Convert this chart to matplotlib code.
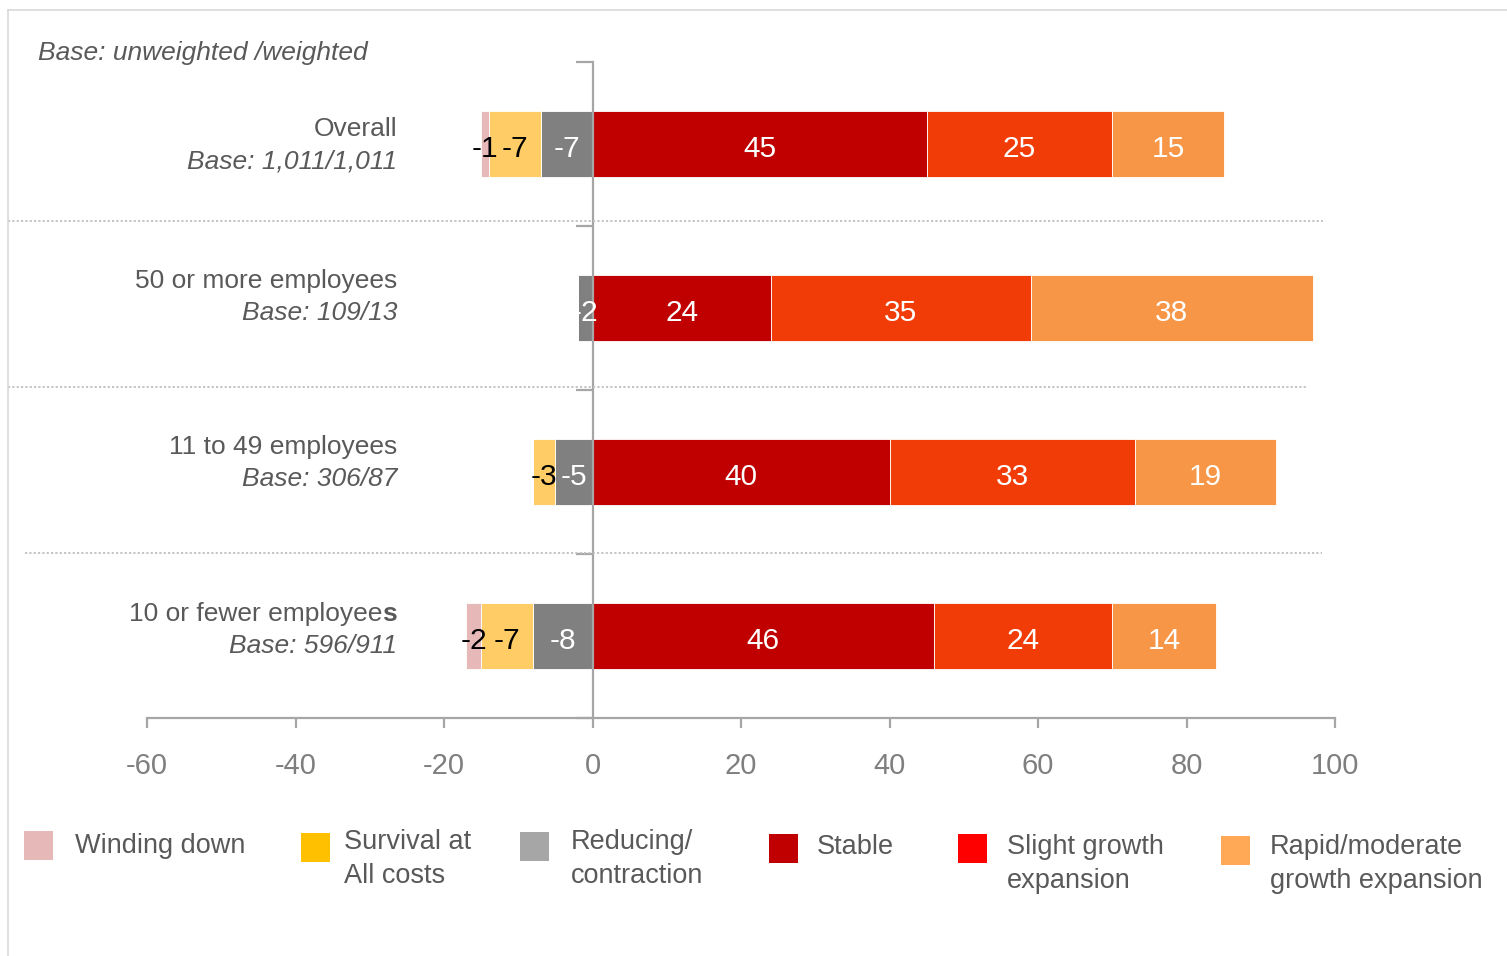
import matplotlib
matplotlib.use("Agg")
import matplotlib.pyplot as plt
from matplotlib.patches import Rectangle
from matplotlib.lines import Line2D
from matplotlib.transforms import offset_copy

plt.rcParams['font.family'] = ['Liberation Sans', 'DejaVu Sans']

# ---- data -------------------------------------------------------------
categories = ["Overall", "50 or more employees", "11 to 49 employees",
              "10 or fewer employees"]
bases = ["Base: 1,011/1,011", "Base: 109/13", "Base: 306/87", "Base: 596/911"]

# negative side (drawn outward from zero)
winding_down = [-1, 0, 0, -2]
survival = [-7, 0, -3, -7]
reducing = [-7, -2, -5, -8]
# positive side
stable = [45, 24, 40, 46]
slight_growth = [25, 35, 33, 24]
rapid_growth = [15, 38, 19, 14]

series_names = ["Winding down", "Survival at\nAll costs", "Reducing/\ncontraction",
                "Stable", "Slight growth\nexpansion", "Rapid/moderate\ngrowth expansion"]
bar_colors = ["#E6B9B8", "#FFCC66", "#808080", "#C00000", "#F23C08", "#F79646"]
legend_colors = ["#E6B9B8", "#FFC000", "#A6A6A6", "#C00000", "#FF0000", "#FFA957"]
label_colors = ["black", "black", "white", "white", "white", "white"]

x_ticks = [-60, -40, -20, 0, 20, 40, 60, 80, 100]

# ---- figure -----------------------------------------------------------
W, H = 1507, 956
fig = plt.figure(figsize=(W / 100, H / 100), dpi=100)


def fx(px):
    return px / W


def fy(py):
    return 1 - py / H


ax = fig.add_axes([fx(147), fy(718), fx(1335) - fx(147), fy(62) - fy(718)])
ax.set_xlim(-60, 100)
ax.set_ylim(4, 0)

ypos = [i + 0.5 for i in range(len(categories))]
bar_h = 0.4

neg_series = [reducing, survival, winding_down]      # stacked from zero outward
neg_idx = [2, 1, 0]
pos_series = [stable, slight_growth, rapid_growth]
pos_idx = [3, 4, 5]

value_tr = offset_copy(ax.transData, fig=fig, x=0, y=-1.5, units="points")


def draw_stack(series_list, idx_list):
    base = [0] * len(categories)
    for vals, k in zip(series_list, idx_list):
        bars = ax.barh(ypos, vals, left=base, height=bar_h, color=bar_colors[k],
                       edgecolor="white", linewidth=0.6, zorder=2)
        for rect, v in zip(bars, vals):
            if v == 0:
                continue
            cx = rect.get_x() + rect.get_width() / 2
            cy = rect.get_y() + rect.get_height() / 2
            ax.text(cx, cy, f"{v:d}", ha="center", va="center_baseline",
                    fontsize=21.5, color=label_colors[k], zorder=4,
                    transform=value_tr)
        base = [b + v for b, v in zip(base, vals)]


draw_stack(neg_series, neg_idx)
draw_stack(pos_series, pos_idx)

# axes styling
axis_grey = "#A6A6A6"
for s in ["top", "right"]:
    ax.spines[s].set_visible(False)
ax.spines["left"].set_position(("data", 0))
ax.spines["left"].set_color(axis_grey)
ax.spines["left"].set_linewidth(1.6)
ax.spines["left"].set_zorder(3)
ax.spines["bottom"].set_color(axis_grey)
ax.spines["bottom"].set_linewidth(1.6)

ax.set_xticks(x_ticks)
ax.set_xticklabels([str(t) for t in x_ticks])
ax.tick_params(axis="x", direction="out", length=7.5, width=1.6, color=axis_grey,
               labelsize=21, labelcolor="#7F7F7F", pad=17)
ax.set_yticks([0, 1, 2, 3, 4])
ax.set_yticklabels([])
ax.tick_params(axis="y", direction="out", length=12, width=1.6, color=axis_grey)
ax.patch.set_visible(False)

text_grey = "#595959"

# header
fig.text(fx(38), fy(53), "Base: unweighted /weighted", fontsize=19,
         style="italic", color=text_grey, ha="left", va="center")

# category labels
name_y = [129, 281, 447, 614]
base_y = [161, 313, 479, 646]
cat_fs = 19
fig.canvas.draw()
renderer = fig.canvas.get_renderer()
for i, (name, base) in enumerate(zip(categories, bases)):
    if i == len(categories) - 1:
        # final letter of this label is set in bold
        t_s = fig.text(fx(397), fy(name_y[i]), name[-1], fontsize=cat_fs,
                       fontweight="bold", color=text_grey, ha="right", va="center")
        bb = t_s.get_window_extent(renderer=renderer)
        fig.text(bb.x0 / W, fy(name_y[i]), name[:-1], fontsize=cat_fs,
                 color=text_grey, ha="right", va="center")
    else:
        fig.text(fx(397), fy(name_y[i]), name, fontsize=cat_fs, color=text_grey,
                 ha="right", va="center")
    fig.text(fx(397), fy(base_y[i]), base, fontsize=cat_fs, style="italic",
             color=text_grey, ha="right", va="center")

# dotted separators between groups
sep_lines = [(8, 1323, 221), (8, 1307, 387), (25, 1322, 553)]
for x0, x1, yy in sep_lines:
    fig.add_artist(Line2D([fx(x0), fx(x1)], [fy(yy), fy(yy)], color="#BFBFBF",
                          linewidth=1.3, linestyle=(0, (1.2, 1.2)),
                          transform=fig.transFigure))

# outer frame (top and left edges)
fig.add_artist(Line2D([fx(8), fx(W)], [fy(10), fy(10)], color="#D9D9D9",
                      linewidth=1.2, transform=fig.transFigure))
fig.add_artist(Line2D([fx(8), fx(8)], [fy(10), fy(H)], color="#D9D9D9",
                      linewidth=1.2, transform=fig.transFigure))

# legend
swatch_xy = [(24, 831), (301, 833), (520, 832), (769, 834), (958, 834), (1221, 836)]
text_x = [75, 344, 571, 817, 1007, 1270]
first_line_y = [846, 842, 842, 847, 847, 847]
line_gap = 34
sw = 29
for k, name in enumerate(series_names):
    x0, y0 = swatch_xy[k]
    fig.add_artist(Rectangle((fx(x0), fy(y0 + sw)), sw / W, sw / H,
                             facecolor=legend_colors[k], edgecolor="none",
                             transform=fig.transFigure))
    for j, line in enumerate(name.split("\n")):
        fig.text(fx(text_x[k]), fy(first_line_y[k] + j * line_gap), line,
                 fontsize=19.5, color=text_grey, ha="left", va="center")

fig.savefig("out.png", dpi=100)
